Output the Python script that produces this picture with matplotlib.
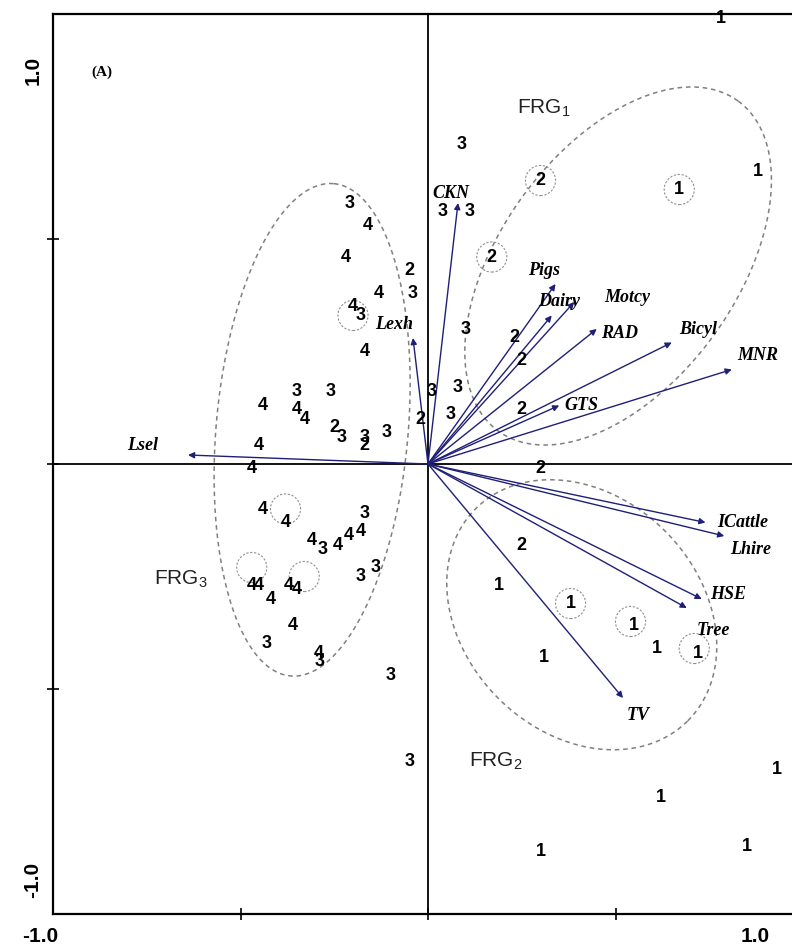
import numpy as np
import matplotlib.pyplot as plt

# sample scores (label = farm group)
site_lab = ['1', '1', '1', '1', '1', '1', '1', '1', '1', '1', '1', '1', '1',
            '2', '2', '2', '2', '2', '2', '2', '2', '2', '2', '2',
            '3', '3', '3', '3', '3', '3', '3',
            '3', '4', '4', '4', '3', '4', '3', '4', '3', '4', '3', '4', '4',
            '3', '3', '3', '4', '4',
            '4', '4', '3', '4', '3', '4', '4', '4', '3', '3', '4', '4', '4',
            '4', '4', '4', '3', '4', '3', '3', '3']
site_x = [0.78, 0.88, 0.67, 0.19, 0.38, 0.55, 0.61, 0.72, 0.31, 0.93, 0.62, 0.30, 0.85,
          0.30, 0.17, 0.23, 0.25, 0.25, -0.02, 0.30, 0.25, -0.05, -0.25, -0.17,
          0.09, 0.04, 0.11, 0.10, 0.01, 0.08, 0.06,
          -0.21, -0.16, -0.22, -0.13, -0.04, -0.20, -0.18, -0.17, -0.26, -0.44, -0.35, -0.35, -0.33,
          -0.23, -0.17, -0.11, -0.45, -0.47,
          -0.44, -0.38, -0.17, -0.31, -0.28, -0.24, -0.21, -0.18, -0.18, -0.14, -0.47, -0.45, -0.42,
          -0.37, -0.35, -0.36, -0.43, -0.29, -0.29, -0.10, -0.05]
site_y = [0.99, 0.65, 0.61, -0.27, -0.31, -0.36, -0.41, -0.42, -0.43, -0.68, -0.74, -0.86, -0.85,
          0.63, 0.46, 0.28, 0.23, 0.12, 0.10, -0.01, -0.18, 0.43, 0.08, 0.04,
          0.71, 0.56, 0.56, 0.30, 0.16, 0.17, 0.11,
          0.58, 0.53, 0.46, 0.38, 0.38, 0.35, 0.33, 0.25, 0.16, 0.13, 0.16, 0.12, 0.10,
          0.06, 0.06, 0.07, 0.04, -0.01,
          -0.10, -0.13, -0.11, -0.17, -0.19, -0.18, -0.16, -0.15, -0.25, -0.23, -0.27, -0.27, -0.30,
          -0.27, -0.28, -0.36, -0.40, -0.42, -0.44, -0.47, -0.66]

# highlighted samples (small circles)
circ_x = [0.30, 0.67, 0.17, -0.20, -0.38, -0.47, -0.33, 0.38, 0.54, 0.71]
circ_y = [0.63, 0.61, 0.46, 0.33, -0.10, -0.23, -0.25, -0.31, -0.35, -0.41]

# environmental variables (arrow tips) and label positions
env_name = ['CKN', 'Lexh', 'Lsel', 'Pigs', 'Dairy', 'Motcy', 'RAD', 'Bicyl', 'MNR', 'GTS',
            'ICattle', 'Lhire', 'HSE', 'Tree', 'TV']
env_x = [0.08, -0.04, -0.64, 0.34, 0.33, 0.39, 0.45, 0.65, 0.81, 0.35,
         0.74, 0.79, 0.73, 0.69, 0.52]
env_y = [0.58, 0.28, 0.02, 0.40, 0.33, 0.36, 0.30, 0.27, 0.21, 0.13,
         -0.13, -0.16, -0.30, -0.32, -0.52]
env_lx = [0.06, -0.09, -0.76, 0.31, 0.35, 0.53, 0.51, 0.72, 0.88, 0.41,
          0.84, 0.86, 0.80, 0.76, 0.56]
env_ly = [0.60, 0.31, 0.04, 0.43, 0.36, 0.37, 0.29, 0.30, 0.24, 0.13,
          -0.13, -0.19, -0.29, -0.37, -0.56]

# group ellipses: centre, semi-axes (x units), angle (deg, on screen)
grp_name = ['FRG$_{\\mathregular{1}}$', 'FRG$_{\\mathregular{2}}$', 'FRG$_{\\mathregular{3}}$']
grp_cx = [0.507, 0.41, -0.309]
grp_cy = [0.44, -0.335, 0.076]
grp_a = [0.544, 0.40, 0.659]
grp_b = [0.315, 0.315, 0.256]
grp_ang = [54, -45, 85]
grp_lx = [0.31, 0.18, -0.66]
grp_ly = [0.79, -0.66, -0.255]

fig = plt.figure(figsize=(7.92, 9.51), dpi=100)
ax = fig.add_axes([53 / 792, 37 / 951, 750 / 792, 900 / 951])
ax.set_xlim(-1, 1)
ax.set_ylim(-1, 1)
yx = 375 / 450  # y data per x data on screen

ax.axhline(0, color='black', lw=1.3, zorder=1)
ax.axvline(0, color='black', lw=1.3, zorder=1)

t = np.linspace(0, 2 * np.pi, 300)
for cx, cy, a, b, ang in zip(grp_cx, grp_cy, grp_a, grp_b, grp_ang):
    th = np.radians(ang)
    dx = a * np.cos(t) * np.cos(th) - b * np.sin(t) * np.sin(th)
    dy = a * np.cos(t) * np.sin(th) + b * np.sin(t) * np.cos(th)
    ax.plot(cx + dx, cy + dy * yx, color='#808080', lw=1.1, ls=(0, (3, 2.5)), zorder=2)

for name, lx, ly in zip(grp_name, grp_lx, grp_ly):
    ax.text(lx, ly, name, fontsize=15, family='Liberation Sans', color='#222222',
            ha='center', va='center')

ax.scatter(circ_x, circ_y, s=470, facecolors='none', edgecolors='#909090',
           linewidths=0.8, linestyles=(0, (2, 1.5)), zorder=2)

for x, y in zip(env_x, env_y):
    ax.annotate('', xy=(x, y), xytext=(0, 0),
                arrowprops=dict(arrowstyle='-|>', color='#1f1f78', lw=1.0,
                                mutation_scale=9, shrinkA=0, shrinkB=0), zorder=3)
for name, lx, ly in zip(env_name, env_lx, env_ly):
    ax.text(lx, ly, name, fontsize=13, family='Liberation Serif', style='italic',
            weight='bold', ha='center', va='center', zorder=4)

for lab, x, y in zip(site_lab, site_x, site_y):
    ax.text(x, y, lab, fontsize=13, family='Liberation Sans', weight='bold',
            ha='center', va='center', zorder=5, clip_on=False)

ax.text(-0.87, 0.87, '(A)', fontsize=11, family='Liberation Serif', weight='bold',
        ha='center', va='center')

for s in ax.spines.values():
    s.set_linewidth(1.6)
ax.set_xticks([-0.5, 0, 0.5])
ax.set_yticks([-0.5, 0, 0.5])
ax.set_xticklabels([])
ax.set_yticklabels([])
ax.tick_params(direction='inout', length=9, width=1.2)

lab_kw = dict(fontsize=15, family='Liberation Sans', weight='bold', ha='center', va='center')
fig.text(40 / 792, 1 - 937 / 951, '-1.0', **lab_kw)
fig.text(755 / 792, 1 - 937 / 951, '1.0', **lab_kw)
fig.text(33 / 792, 1 - 70 / 951, '1.0', rotation=90, **lab_kw)
fig.text(33 / 792, 1 - 880 / 951, '-1.0', rotation=90, **lab_kw)

fig.savefig('out.png', dpi=100)
